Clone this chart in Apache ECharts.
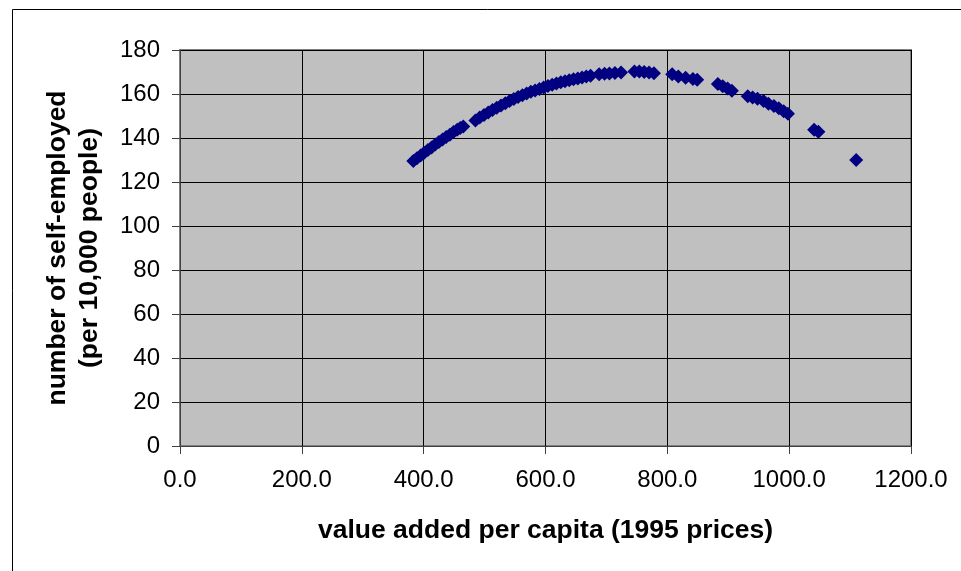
<!DOCTYPE html>
<html>
<head>
<meta charset="utf-8">
<script src="https://cdn.jsdelivr.net/npm/echarts@6/dist/echarts.min.js"></script>
<style>
  html, body { margin: 0; padding: 0; background: #fff; }
  #chart { width: 961px; height: 571px; }
</style>
</head>
<body>
<div id="chart"></div>
<script>
  // value added per capita (1995 prices)
  const valueAdded = [
    383, 389, 395, 401, 407, 413, 419, 425, 431, 437, 443, 449, 455, 460, 465,
    485, 492, 499, 506, 513, 520, 527, 534, 541, 548, 555, 562, 569, 576, 583,
    590, 597, 604, 611, 618, 625, 632, 639, 646, 653, 660, 667, 674,
    688, 697, 705, 714, 724,
    746, 754, 762, 770, 778,
    808, 818, 830, 842, 849,
    883, 891, 899, 906,
    932, 940, 948, 958, 966, 975, 983, 991, 998,
    1041, 1048,
    1110
  ]
  // number of self-employed per 10,000 people
  const selfEmployed = [
    129.5, 130.8, 132, 133.3, 134.5, 135.7, 137, 138.2, 139.3, 140.5, 141.5, 142.7, 143.7, 144.5, 145.2,
    148, 149.3, 150.5, 151.6, 152.7, 153.8, 154.8, 155.8, 156.8, 157.7, 158.6, 159.4, 160.2, 161, 161.6,
    162.3, 163, 163.6, 164.2, 164.8, 165.3, 165.8, 166.3, 166.7, 167.1, 167.5, 167.9, 168.3,
    169, 169.2, 169.3, 169.5, 169.8,
    170.2, 170.2, 170, 169.8, 169.4,
    169, 168, 167.4, 166.8, 166.5,
    164.5, 163.5, 162.5, 161.5,
    159, 158.4, 157.8, 156.8, 155.6, 154.6, 153.5, 152.2, 151,
    143.8, 142.8,
    130
  ]
  const xTitle = 'value added per capita (1995 prices)'
  const yTitle = 'number of self-employed\n(per 10,000 people)'

  const points = valueAdded.map((v, i) => [v, selfEmployed[i]])
  const font = 'Liberation Sans, Arial, sans-serif'

  const chart = echarts.init(document.getElementById('chart'), null, { renderer: 'canvas' })
  chart.setOption({
    animation: false,
    backgroundColor: '#ffffff',
    textStyle: { fontFamily: font },
    graphic: [
      {
        type: 'rect',
        shape: { x: 12.5, y: 9.5, width: 1000, height: 700 },
        style: { fill: null, stroke: '#000', lineWidth: 1 },
        z: 0
      }
    ],
    grid: {
      left: 180,
      right: 50,
      top: 50,
      bottom: 125,
      show: true,
      backgroundColor: '#c0c0c0',
      borderColor: '#808080',
      borderWidth: 2
    },
    xAxis: {
      type: 'value',
      min: 0,
      max: 1200,
      interval: 200,
      name: xTitle,
      nameLocation: 'middle',
      nameGap: 71,
      nameTextStyle: { fontSize: 26.5, fontWeight: 'bold', color: '#000', fontFamily: font },
      axisLine: { show: true, lineStyle: { color: '#404040', width: 1 } },
      axisTick: { show: true, length: 8, lineStyle: { color: '#404040' } },
      axisLabel: {
        fontSize: 24,
        color: '#000',
        margin: 22,
        formatter: v => v.toFixed(1)
      },
      splitLine: { show: true, lineStyle: { color: '#000', width: 1 } }
    },
    yAxis: {
      type: 'value',
      min: 0,
      max: 180,
      interval: 20,
      name: yTitle,
      nameLocation: 'middle',
      nameRotate: 90,
      nameGap: 74,
      nameTextStyle: { fontSize: 26.5, fontWeight: 'bold', color: '#000', lineHeight: 32, fontFamily: font },
      axisLine: { show: true, lineStyle: { color: '#404040', width: 1 } },
      axisTick: { show: true, length: 8, lineStyle: { color: '#404040' } },
      axisLabel: { fontSize: 24, color: '#000', margin: 20 },
      splitLine: { show: true, lineStyle: { color: '#000', width: 1 } }
    },
    series: [
      {
        type: 'scatter',
        symbol: 'diamond',
        symbolSize: 14,
        itemStyle: { color: '#000080', opacity: 1 },
        data: points
      }
    ]
  })
</script>
</body>
</html>
